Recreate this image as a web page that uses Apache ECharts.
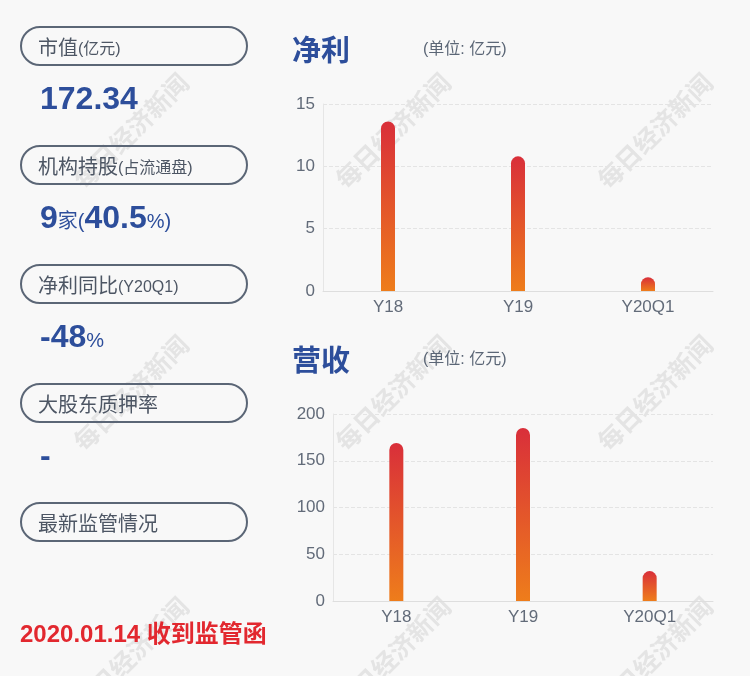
<!DOCTYPE html>
<html>
<head>
<meta charset="utf-8">
<script src="https://cdn.jsdelivr.net/npm/echarts@6/dist/echarts.min.js"></script>
<style>
html,body{margin:0;padding:0;background:#f8f8f8;}
#c{width:750px;height:676px;}
</style>
</head>
<body>
<div id="c"></div>
<script>
// ---- data ----
const categories = ['Y18', 'Y19', 'Y20Q1'];
const netProfit = [13.6, 10.8, 1.1];
const revenue = [169, 185, 32];
const netProfitTicks = { min: 0, max: 15, interval: 5 };
const revenueTicks = { min: 0, max: 200, interval: 50 };
const chartTitles = ['净利', '营收'];
const unitLabel = '(单位: 亿元)';
const pillLabels = [
  ['市值', '(亿元)'],
  ['机构持股', '(占流通盘)'],
  ['净利同比', '(Y20Q1)'],
  ['大股东质押率', ''],
  ['最新监管情况', '']
];
const marketCap = '172.34';
const instCount = '9';
const instPct = '40.5';
const profitYoY = '-48';
const pledgeRate = '-';
const noticeText = '2020.01.14 收到监管函';
const watermarkText = '每日经济新闻';

// ---- styles ----
const BLUE = '#2d4e9b';
const GRAY = '#4d5664';
const BORDER = '#5b6676';
const AXIS = '#626b79';
const CJK = '"Liberation Sans", "Noto Sans CJK SC", sans-serif';

const chart = echarts.init(document.getElementById('c'));

const graphics = [];
// watermarks
[131, 393, 655].forEach(cx => {
  [131, 393, 655].forEach(cy => {
    graphics.push({
      type: 'text', x: cx, y: cy, rotation: Math.PI / 4, z: 0, silent: true,
      style: { text: watermarkText, font: 'bold 25px "Noto Sans CJK SC", serif', fill: 'rgba(200,200,200,0.42)', align: 'center', verticalAlign: 'middle' }
    });
  });
});
// pills
const pillTops = [27, 146, 265, 384, 503];
pillLabels.forEach((p, i) => {
  const t = pillTops[i];
  graphics.push({
    type: 'rect', shape: { x: 21, y: t, width: 226, height: 38, r: 19 }, z: 5,
    style: { fill: 'none', stroke: BORDER, lineWidth: 2 }
  });
  graphics.push({
    type: 'text', x: 38, y: t + 19, z: 5,
    style: {
      text: '{a|' + p[0] + '}' + (p[1] ? '{b|' + p[1] + '}' : ''),
      verticalAlign: 'middle', align: 'left',
      rich: {
        a: { fontSize: 20, fontFamily: CJK, fill: GRAY, verticalAlign: 'bottom', lineHeight: 26 },
        b: { fontSize: 16, fontFamily: CJK, fill: GRAY, verticalAlign: 'bottom', lineHeight: 26, padding: [0, 0, 1, 0] }
      }
    }
  });
});
const bigRich = {
  n: { fontSize: 32, fontWeight: 'bold', fontFamily: CJK, fill: BLUE, verticalAlign: 'bottom', lineHeight: 38 },
  s: { fontSize: 20, fontFamily: CJK, fill: BLUE, verticalAlign: 'bottom', lineHeight: 38, padding: [0, 0, 3, 0] }
};
graphics.push({ type: 'text', x: 40, y: 97, z: 5, style: { text: '{n|' + marketCap + '}', verticalAlign: 'middle', rich: bigRich } });
graphics.push({ type: 'text', x: 40, y: 216, z: 5, style: { text: '{n|' + instCount + '}{s|家(}{n|' + instPct + '}{s|%)}', verticalAlign: 'middle', rich: bigRich } });
graphics.push({ type: 'text', x: 40, y: 335, z: 5, style: { text: '{n|' + profitYoY + '}{s|%}', verticalAlign: 'middle', rich: bigRich } });
graphics.push({ type: 'text', x: 40, y: 454, z: 5, style: { text: '{n|' + pledgeRate + '}', verticalAlign: 'middle', rich: bigRich } });
graphics.push({ type: 'text', x: 20, y: 635, z: 5, style: { text: noticeText, font: 'bold 24px ' + CJK, fill: '#e2282f', verticalAlign: 'middle' } });
// chart titles
[[50, 0], [360, 1]].forEach(([y, i]) => {
  graphics.push({ type: 'text', x: 292, y: y, z: 5, style: { text: chartTitles[i], font: 'bold 29px "Noto Sans CJK SC", sans-serif', fill: BLUE, verticalAlign: 'middle' } });
  graphics.push({ type: 'text', x: 423, y: y, z: 5, style: { text: unitLabel, font: '16px ' + CJK, fill: '#5b6676', verticalAlign: 'middle' } });
});

const barGradient = new echarts.graphic.LinearGradient(0, 0, 0, 1, [
  { offset: 0, color: '#d92f3a' },
  { offset: 1, color: '#ee7d1b' }
]);

function xAxis(idx) {
  return {
    type: 'category', gridIndex: idx, data: categories,
    axisLine: { show: true, lineStyle: { color: '#dedede', width: 1 } },
    axisTick: { show: false },
    axisLabel: { color: AXIS, fontSize: 17, fontFamily: CJK, margin: 8 }
  };
}
function yAxis(idx, t) {
  return {
    type: 'value', gridIndex: idx, min: t.min, max: t.max, interval: t.interval,
    axisLine: { show: true, lineStyle: { color: '#e6e6e6' } },
    axisTick: { show: false },
    axisLabel: { color: AXIS, fontSize: 17, fontFamily: CJK, margin: 8 },
    splitLine: { show: true, lineStyle: { color: '#e4e4e4', type: 'dashed' } }
  };
}
function barSeries(idx, data) {
  return {
    type: 'bar', xAxisIndex: idx, yAxisIndex: idx, data: data, barWidth: 14, z: 3,
    itemStyle: { color: barGradient, borderRadius: [7, 7, 0, 0] }
  };
}

chart.setOption({
  backgroundColor: '#f8f8f8',
  animation: false,
  grid: [
    { left: 323, right: 37, top: 104, bottom: 385 },
    { left: 333, right: 37, top: 414, bottom: 75 }
  ],
  xAxis: [xAxis(0), xAxis(1)],
  yAxis: [yAxis(0, netProfitTicks), yAxis(1, revenueTicks)],
  series: [barSeries(0, netProfit), barSeries(1, revenue)],
  graphic: graphics
});
</script>
</body>
</html>
